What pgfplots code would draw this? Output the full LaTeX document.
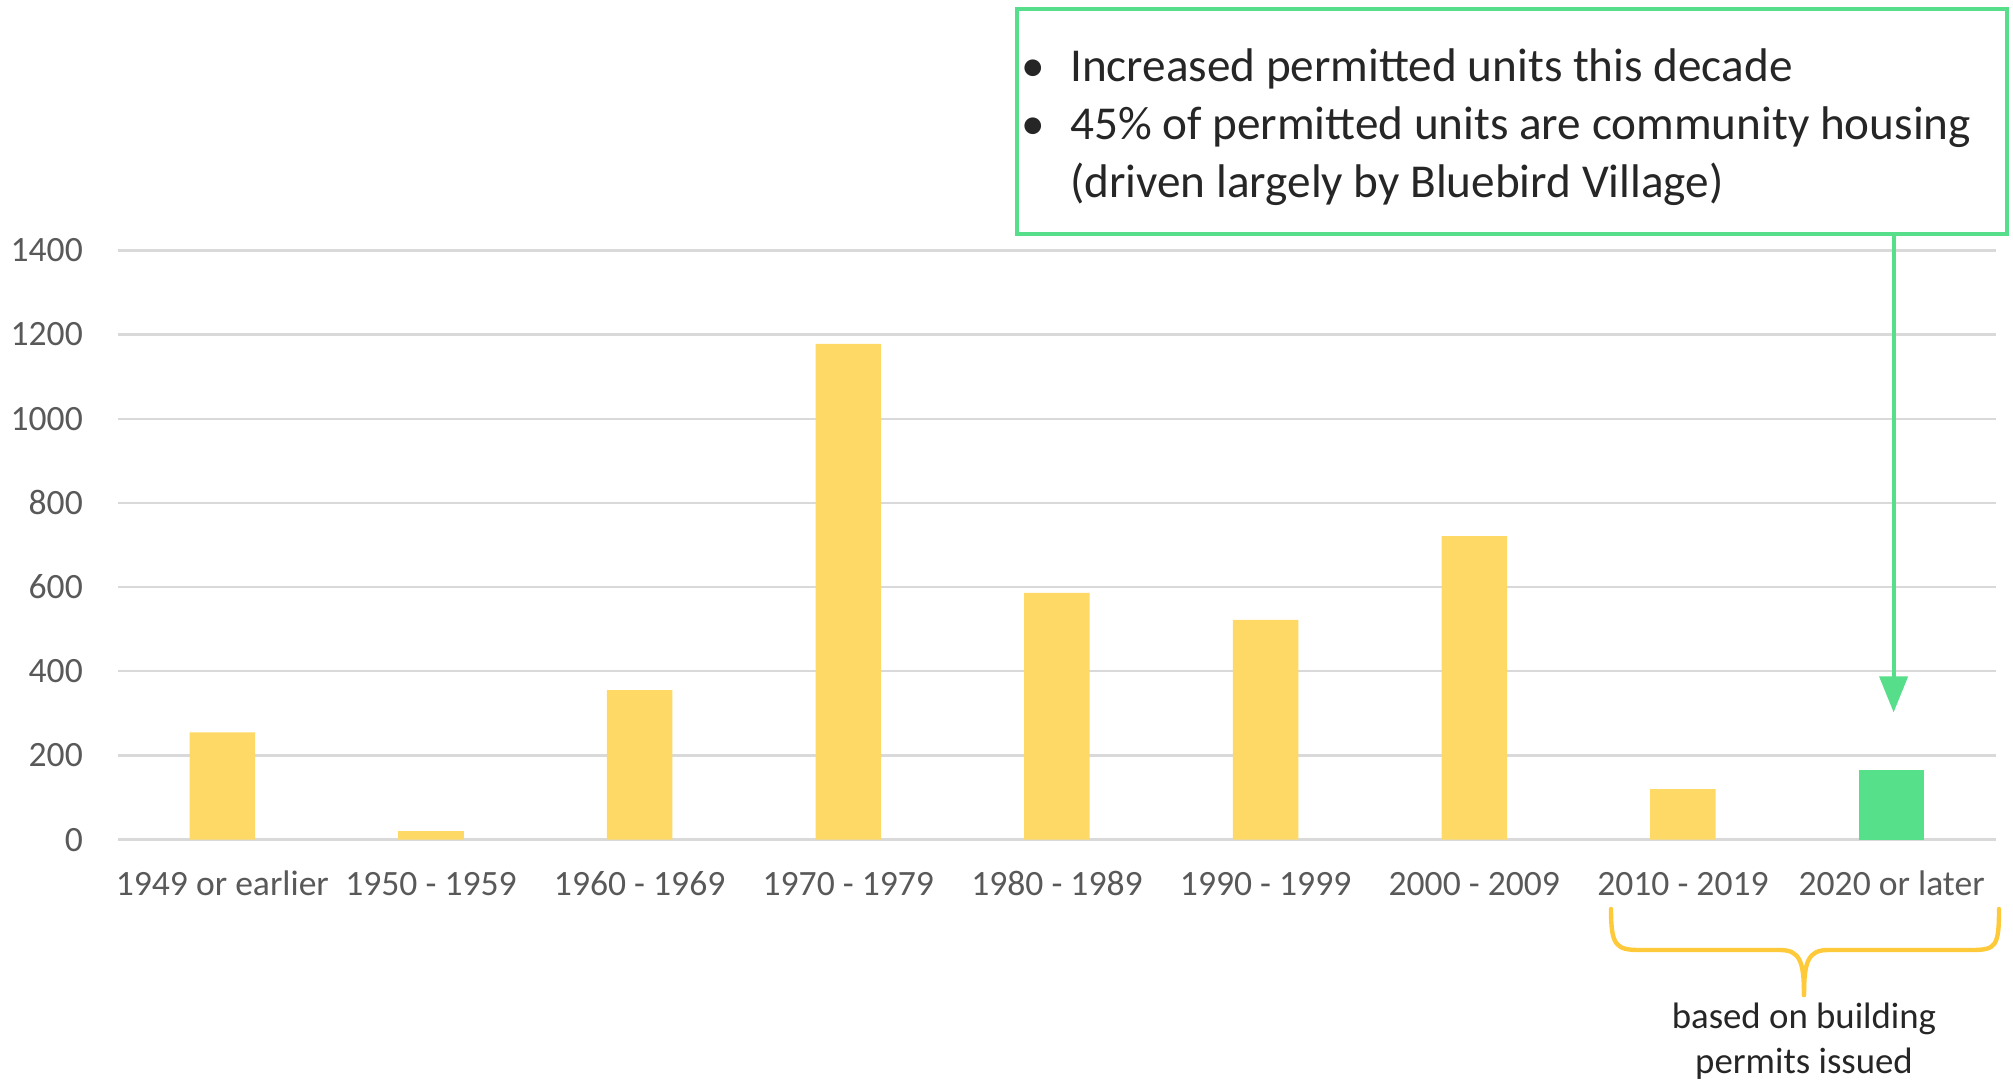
\documentclass[border=0pt]{standalone}
\usepackage{pgfplots}
\pgfplotsset{compat=1.18}
\usepackage{pgfplotstable}
\usepackage{fontspec}
\setmainfont{Carlito}
\usetikzlibrary{arrows.meta}
\definecolor{baryellow}{HTML}{FFD966}
\definecolor{bargreen}{HTML}{57E08A}
\definecolor{boxgreen}{HTML}{57DE8A}
\definecolor{bracey}{HTML}{FFCA3A}
\definecolor{tickgray}{HTML}{595959}
\definecolor{gridgray}{HTML}{D9D9D9}
\definecolor{textdark}{HTML}{262626}

\pgfplotstableread{
x y
0 255
1 20
2 355
3 1178
4 586
5 522
6 721
7 120
}\yellowdata
\pgfplotstableread{
x y
8 165
}\greendata

\begin{document}
\begin{tikzpicture}
\useasboundingbox (0,0) rectangle (503.25pt,270.5pt);
\begin{axis}[
  at={(29.5pt,60.6pt)}, anchor=south west,
  scale only axis, width=469.5pt, height=147.3pt,
  xmin=-0.5, xmax=8.5, ymin=0, ymax=1400,
  ytick={0,200,...,1400},
  xtick={0,...,8},
  xticklabels={1949 or earlier,1950 - 1959,1960 - 1969,1970 - 1979,1980 - 1989,1990 - 1999,2000 - 2009,2010 - 2019,2020 or later},
  axis line style={draw=none},
  major tick length=0pt,
  ymajorgrids,
  grid style={gridgray, line width=0.6pt},
  ticklabel style={font=\fontsize{8.9}{10}\selectfont, text=tickgray},
  yticklabel style={anchor=east, inner sep=0pt, xshift=-8.6pt},
  xticklabel style={anchor=base, inner sep=0pt, yshift=-14pt},
  /pgf/number format/assume math mode=true,
  /pgf/number format/1000 sep={},
  clip=false,
]
\addplot[ybar, bar width=0.314, bar shift=0pt, fill=baryellow, draw=none] table[x=x,y=y]{\yellowdata};
\addplot[ybar, bar width=0.314, bar shift=0pt, fill=bargreen, draw=none] table[x=x,y=y]{\greendata};
\end{axis}
% annotation box
\draw[boxgreen, line width=1pt] (254.2pt,212.1pt) rectangle (501.65pt,268.25pt);
\begin{scope}[every node/.style={font=\fontsize{11.8}{14}\selectfont, text=textdark, inner sep=0pt}]
\node[anchor=base] at (258.3pt,250pt) {•};
\node[anchor=base] at (258.3pt,235.5pt) {•};
\node[anchor=base west] at (267.35pt,250pt) {Increased permitted units this decade};
\node[anchor=base west] at (267.35pt,235.5pt) {45\% of permitted units are community housing};
\node[anchor=base west] at (267.35pt,221pt) {(driven largely by Bluebird Village)};
\end{scope}
% arrow
\draw[boxgreen, line width=1pt, -{Triangle[width=7pt,length=9pt]}] (473.4pt,212.1pt) -- (473.4pt,92.4pt);
% brace
\draw[bracey, line width=1.1pt, line cap=round]
  (402.75pt,43.25pt) .. controls (402.75pt,34pt) and (404pt,33pt) .. (410pt,33pt)
  -- (445pt,33pt) .. controls (450pt,33pt) and (451pt,30pt) .. (451pt,21.75pt);
\draw[bracey, line width=1.1pt, line cap=round]
  (451pt,21.75pt) .. controls (451pt,30pt) and (452pt,33pt) .. (457pt,33pt)
  -- (493pt,33pt) .. controls (499pt,33pt) and (499.75pt,34pt) .. (499.75pt,43.25pt);
\node[anchor=base, font=\fontsize{9.2}{11}\selectfont, text=textdark, inner sep=0pt] at (451pt,13.5pt) {based on building};
\node[anchor=base, font=\fontsize{9.2}{11}\selectfont, text=textdark, inner sep=0pt] at (451pt,2.25pt) {permits issued};
\end{tikzpicture}
\end{document}
